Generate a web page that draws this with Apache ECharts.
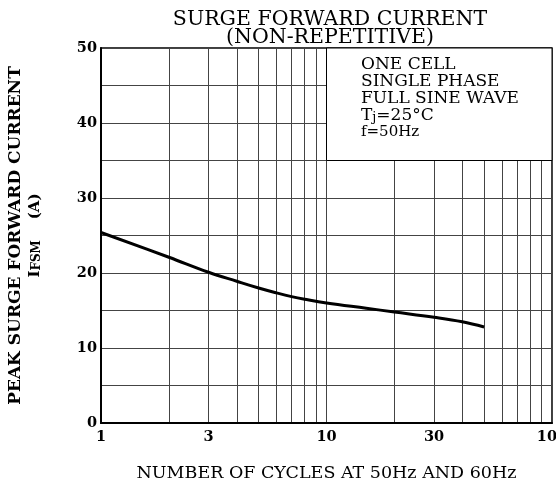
<!DOCTYPE html>
<html>
<head>
<meta charset="utf-8">
<script src="https://cdn.jsdelivr.net/npm/echarts@6/dist/echarts.min.js"></script>
<style>
  html, body { margin: 0; padding: 0; background: #fff; }
  #main { width: 556px; height: 487px; }
</style>
</head>
<body>
<div id="main"></div>
<script>
// curve
var cycles = [1, 2, 3, 4, 5, 6, 7, 8, 10, 15, 20, 30, 40, 50];
var ifsm = [25.4, 22.1, 20.1, 18.9, 18.0, 17.35, 16.85, 16.5, 16.0, 15.3, 14.8, 14.1, 13.5, 12.8];

// log grid lines and labelled ticks on the x axis
var gridCycles = [1, 2, 3, 4, 5, 6, 7, 8, 9, 10, 20, 30, 40, 50, 60, 70, 80, 90, 100];
var labelCycles = [1, 3, 10, 30, 100];

var serif = 'DejaVu Serif';
var lg = function (v) { return Math.log10(v); };

var chart = echarts.init(document.getElementById('main'));

chart.setOption({
    animation: false,
    title: {
        text: 'SURGE FORWARD CURRENT\n(NON-REPETITIVE)',
        left: 325, top: 6,
        textAlign: 'center',
        textStyle: { fontFamily: serif, fontSize: 20.5, fontWeight: 'normal', color: '#000', lineHeight: 18 }
    },
    grid: {
        left: 101, right: 4, top: 48, bottom: 64,
        outerBoundsMode: 'none',
        show: true, borderColor: '#000', borderWidth: 1.5
    },
    xAxis: {
        type: 'value',
        min: 0, max: 2,
        name: 'NUMBER OF CYCLES AT 50Hz AND 60Hz',
        nameLocation: 'middle',
        nameGap: 41,
        nameTextStyle: { fontFamily: serif, fontSize: 17.5, color: '#000' },
        axisLine: { lineStyle: { color: '#000', width: 2 } },
        axisTick: { show: false, customValues: gridCycles.map(lg) },
        splitLine: { show: true, lineStyle: { color: '#444', width: 1 } },
        axisLabel: {
            customValues: labelCycles.map(lg),
            formatter: function (v) { return Math.round(Math.pow(10, v)); },
            fontFamily: serif, fontSize: 14.5, fontWeight: 'bold', color: '#000', margin: 7
        }
    },
    yAxis: {
        type: 'value',
        min: 0, max: 50, interval: 5,
        name: '{b|PEAK SURGE FORWARD CURRENT}\n{i|I}{s|FSM}{i|    (A)}',
        nameLocation: 'middle',
        nameRotate: 90,
        nameGap: 58,
        nameTextStyle: {
            color: '#000',
            rich: {
                b: { fontFamily: serif, fontSize: 17, fontWeight: 'bold', lineHeight: 24, color: '#000' },
                i: { fontFamily: serif, fontSize: 15, fontWeight: 'bold', lineHeight: 15, verticalAlign: 'top', color: '#000' },
                s: { fontFamily: serif, fontSize: 12, fontWeight: 'bold', lineHeight: 12, padding: [10, 0, 0, 0], verticalAlign: 'bottom', color: '#000' }
            }
        },
        axisLine: { show: true, lineStyle: { color: '#000', width: 2 } },
        axisTick: { show: false },
        splitLine: { show: true, lineStyle: { color: '#444', width: 1 } },
        axisLabel: {
            formatter: function (v) { return v % 10 === 0 ? v : ''; },
            fontFamily: serif, fontSize: 14.5, fontWeight: 'bold', color: '#000', margin: 4
        }
    },
    series: [{
        type: 'line',
        data: cycles.map(function (c, i) { return [lg(c), ifsm[i]]; }),
        smooth: 0.4,
        showSymbol: false,
        lineStyle: { color: '#000', width: 3 },
        markArea: {
            silent: true,
            itemStyle: { color: '#fff', borderColor: '#000', borderWidth: 1 },
            label: {
                show: true,
                position: 'insideTopLeft',
                distance: 0,
                padding: [9, 0, 0, 35],
                formatter: '{t|ONE CELL}\n{t|SINGLE PHASE}\n{t|FULL SINE WAVE}\n{t|T}{j|j}{t|=25°C}\n{f|f=50Hz}',
                rich: {
                    t: { fontFamily: serif, fontSize: 17, color: '#000', lineHeight: 17, verticalAlign: 'top' },
                    j: { fontFamily: serif, fontSize: 13, color: '#000', lineHeight: 13, padding: [7, 0, 0, 0], verticalAlign: 'bottom' },
                    f: { fontFamily: serif, fontSize: 15, color: '#000', lineHeight: 17, verticalAlign: 'top' }
                }
            },
            data: [[{ coord: [lg(10), 35] }, { coord: [lg(100), 50] }]]
        }
    }]
});
</script>
</body>
</html>
